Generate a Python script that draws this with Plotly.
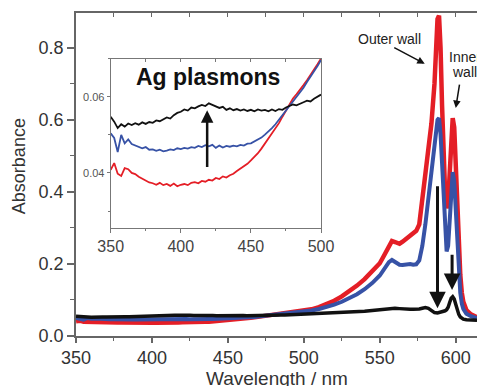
import plotly.graph_objects as go

# ---------------- data ----------------
wl_inset = [350 + 2.5 * i for i in range(61)]
wl_tail = [505, 510, 515, 520, 525, 530, 535, 540, 545, 550, 553, 556, 558, 560,
           563, 565, 568, 570, 572, 574, 576, 578, 580, 582, 584, 586, 588, 589,
           590, 591, 592, 593, 594, 595, 596, 597, 598, 599, 600, 601, 602, 603,
           604, 605, 607, 610, 614]

black_inset = [0.0548, 0.0535, 0.0518, 0.0528, 0.0522, 0.0530, 0.0526, 0.0531, 0.0527, 0.0533,
               0.0529, 0.0534, 0.0532, 0.0538, 0.0536, 0.0541, 0.0546, 0.0543, 0.0552, 0.0558,
               0.0561, 0.0567, 0.0564, 0.0572, 0.0570, 0.0575, 0.0579, 0.0576, 0.0583, 0.0579,
               0.0576, 0.0571, 0.0574, 0.0566, 0.0570, 0.0565, 0.0568, 0.0564, 0.0567, 0.0563,
               0.0566, 0.0562, 0.0567, 0.0564, 0.0566, 0.0562, 0.0567, 0.0563, 0.0568, 0.0566,
               0.0572, 0.0575, 0.0580, 0.0578, 0.0583, 0.0586, 0.0590, 0.0588, 0.0595, 0.0601,
               0.0606]
blue_inset = [0.0504, 0.0492, 0.0455, 0.0500, 0.0478, 0.0488, 0.0476, 0.0472, 0.0468, 0.0465,
              0.0468, 0.0461, 0.0462, 0.0458, 0.0461, 0.0457, 0.0459, 0.0462, 0.0460, 0.0465,
              0.0463, 0.0466, 0.0464, 0.0468, 0.0466, 0.0471, 0.0468, 0.0473, 0.0470, 0.0474,
              0.0466, 0.0472, 0.0467, 0.0471, 0.0469, 0.0472, 0.0470, 0.0474, 0.0472, 0.0477,
              0.0478, 0.0483, 0.0487, 0.0493, 0.0501, 0.0509, 0.0518, 0.0528, 0.0540, 0.0551,
              0.0565, 0.0576, 0.0587, 0.0598, 0.0610, 0.0624, 0.0639, 0.0652, 0.0666, 0.0681,
              0.0697]
red_inset = [0.0408, 0.0426, 0.0398, 0.0392, 0.0413, 0.0410, 0.0400, 0.0397, 0.0390, 0.0385,
             0.0381, 0.0375, 0.0373, 0.0369, 0.0374, 0.0368, 0.0371, 0.0366, 0.0372, 0.0365,
             0.0369, 0.0371, 0.0368, 0.0374, 0.0376, 0.0373, 0.0379, 0.0377, 0.0382, 0.0380,
             0.0387, 0.0384, 0.0391, 0.0388, 0.0394, 0.0398, 0.0405, 0.0411, 0.0418, 0.0424,
             0.0433, 0.0442, 0.0452, 0.0464, 0.0477, 0.0490, 0.0504, 0.0517, 0.0531, 0.0548,
             0.0565, 0.0580, 0.0596, 0.0607, 0.0618, 0.0631, 0.0644, 0.0657, 0.0671, 0.0686,
             0.0701]

red_tail = [0.074, 0.080, 0.088, 0.098, 0.110, 0.124, 0.140, 0.158, 0.178, 0.202,
            0.225, 0.252, 0.264, 0.261, 0.256, 0.262, 0.272, 0.280, 0.287, 0.292,
            0.310, 0.370, 0.450, 0.520, 0.590, 0.700, 0.880, 0.890, 0.800, 0.640,
            0.500, 0.400, 0.355, 0.370, 0.450, 0.560, 0.605, 0.580, 0.470, 0.360,
            0.250, 0.170, 0.120, 0.095, 0.072, 0.060, 0.052]
blue_tail = [0.071, 0.075, 0.080, 0.087, 0.095, 0.105, 0.116, 0.130, 0.147, 0.168,
             0.188, 0.205, 0.211, 0.206, 0.198, 0.197, 0.199, 0.200, 0.198, 0.199,
             0.210, 0.250, 0.310, 0.380, 0.450, 0.530, 0.600, 0.605, 0.560, 0.480,
             0.380, 0.290, 0.235, 0.250, 0.330, 0.420, 0.455, 0.430, 0.340, 0.250,
             0.170, 0.120, 0.090, 0.075, 0.062, 0.055, 0.050]
black_tail = [0.061, 0.062, 0.063, 0.064, 0.065, 0.066, 0.067, 0.069, 0.071, 0.073,
              0.075, 0.077, 0.078, 0.077, 0.076, 0.075, 0.074, 0.074, 0.074, 0.074,
              0.075, 0.077, 0.079, 0.077, 0.070, 0.065, 0.064, 0.065, 0.066, 0.067,
              0.068, 0.070, 0.073, 0.080, 0.093, 0.105, 0.109, 0.103, 0.088, 0.072,
              0.060, 0.053, 0.049, 0.047, 0.045, 0.044, 0.044]

wavelength = wl_inset + wl_tail
red = red_inset + red_tail
blue = blue_inset + blue_tail
black = black_inset + black_tail

RED = "#e41e26"
BLUE = "#3752a6"
BLACK = "#111111"
FONT = "Liberation Sans, Arial, sans-serif"

fig = go.Figure()
# main traces
fig.add_trace(go.Scatter(x=wavelength, y=red, mode="lines", line=dict(color=RED, width=4.5), xaxis="x", yaxis="y"))
fig.add_trace(go.Scatter(x=wavelength, y=blue, mode="lines", line=dict(color=BLUE, width=4), xaxis="x", yaxis="y"))
fig.add_trace(go.Scatter(x=wavelength, y=black, mode="lines", line=dict(color=BLACK, width=3.5), xaxis="x", yaxis="y"))
# inset traces
fig.add_trace(go.Scatter(x=wl_inset, y=red_inset, mode="lines", line=dict(color=RED, width=1.8), xaxis="x2", yaxis="y2"))
fig.add_trace(go.Scatter(x=wl_inset, y=blue_inset, mode="lines", line=dict(color=BLUE, width=1.8), xaxis="x2", yaxis="y2"))
fig.add_trace(go.Scatter(x=wl_inset, y=black_inset, mode="lines", line=dict(color=BLACK, width=1.8), xaxis="x2", yaxis="y2"))
# empty traces to activate top tick axes
fig.add_trace(go.Scatter(x=[], y=[], xaxis="x3", yaxis="y", hoverinfo="skip"))
fig.add_trace(go.Scatter(x=[], y=[], xaxis="x4", yaxis="y2", hoverinfo="skip"))

axcol = "#666666"
fig.update_layout(
    width=477, height=386,
    margin=dict(l=76, r=0, t=13, b=50, autoexpand=False),
    paper_bgcolor="white", plot_bgcolor="white",
    showlegend=False,
    font=dict(family=FONT, color="#333333"),
    xaxis=dict(domain=[0, 1], anchor="y", range=[350, 614], showgrid=False, zeroline=False,
               automargin=False,
               showline=True, linecolor=axcol, linewidth=1.5, mirror=True,
               ticks="outside", ticklen=5, tickwidth=1.5, tickcolor=axcol,
               tick0=350, dtick=50, tickfont=dict(size=18, color="#333333"),
               minor=dict(dtick=25, ticks="outside", ticklen=3, tickwidth=1.2, tickcolor=axcol)),
    yaxis=dict(domain=[0, 1], anchor="x", range=[0, 0.897], showgrid=False, zeroline=False,
               automargin=False,
               showline=True, linecolor=axcol, linewidth=1.5,
               ticks="outside", ticklen=7, tickwidth=1.5, tickcolor=axcol,
               tick0=0, dtick=0.2, tickformat=".1f", tickfont=dict(size=18, color="#333333"),
               minor=dict(dtick=0.1, ticks="outside", ticklen=4, tickwidth=1.2, tickcolor=axcol)),
    xaxis3=dict(overlaying="x", anchor="y", side="top", range=[350, 614], showgrid=False,
                automargin=False,
                zeroline=False, showline=False, showticklabels=False,
                ticks="inside", ticklen=4, tickwidth=1.2, tickcolor=axcol, tick0=350, dtick=25),
    xaxis2=dict(domain=[0.0865, 0.611], anchor="y2", range=[350, 500], showgrid=False, zeroline=False,
                automargin=False,
                showline=True, linecolor="#777777", linewidth=1, mirror=True,
                ticks="outside", ticklen=4, tickwidth=1, tickcolor="#777777",
                tick0=350, dtick=50, tickfont=dict(size=16, color="#444444"),
                minor=dict(dtick=25, ticks="outside", ticklen=2, tickwidth=1, tickcolor="#777777")),
    yaxis2=dict(domain=[0.334, 0.858], anchor="x2", range=[0.0255, 0.07], showgrid=False, zeroline=False,
                automargin=False,
                showline=True, linecolor="#777777", linewidth=1, mirror=True,
                ticks="outside", ticklen=3, tickwidth=1, tickcolor="#777777",
                tick0=0.04, dtick=0.02, tickformat=".2f", tickfont=dict(size=11, color="#555555"),
                minor=dict(dtick=0.01, ticks="outside", ticklen=2, tickwidth=1, tickcolor="#777777")),
    xaxis4=dict(overlaying="x2", anchor="y2", side="top", range=[350, 500], showgrid=False,
                automargin=False,
                zeroline=False, showline=False, showticklabels=False,
                ticks="inside", ticklen=3, tickwidth=1, tickcolor="#777777", tick0=350, dtick=25),
)

ann = []
# axis titles
ann.append(dict(text="Wavelength / nm", xref="paper", yref="paper", x=0.5, y=-0.131,
                xanchor="center", yanchor="middle", showarrow=False,
                font=dict(size=19, color="#333333", family=FONT)))
ann.append(dict(text="Absorbance", xref="paper", yref="paper", x=-0.142, y=0.526, textangle=-90,
                xanchor="center", yanchor="middle", showarrow=False,
                font=dict(size=18, color="#333333", family=FONT)))
# inset label
ann.append(dict(text="<b>Ag plasmons</b>", xref="paper", yref="paper", x=0.328, y=0.802,
                xanchor="center", yanchor="middle", showarrow=False,
                font=dict(size=23, color="#111111", family=FONT)))
# peak labels
ann.append(dict(text="Outer wall", xref="paper", yref="paper", x=0.783, y=0.918,
                xanchor="center", yanchor="middle", showarrow=False,
                font=dict(size=14, color="#222222", family=FONT)))
ann.append(dict(text="Inner", xref="paper", yref="paper", x=0.970, y=0.864,
                xanchor="center", yanchor="middle", showarrow=False,
                font=dict(size=14, color="#222222", family=FONT)))
ann.append(dict(text="wall", xref="paper", yref="paper", x=0.970, y=0.818,
                xanchor="center", yanchor="middle", showarrow=False,
                font=dict(size=14, color="#222222", family=FONT)))
# thin label arrows
ann.append(dict(text="", x=579.6, y=0.756, xref="x", yref="y", ax=-32, ay=-17,
                showarrow=True, arrowhead=2, arrowsize=1, arrowwidth=1.5, arrowcolor="#111111"))
ann.append(dict(text="", x=600, y=0.633, xref="x", yref="y", ax=4, ay=-25,
                showarrow=True, arrowhead=2, arrowsize=1, arrowwidth=1.5, arrowcolor="#111111"))
# thick arrows
ann.append(dict(text="", x=588, y=0.077, xref="x", yref="y", ax=588, ay=0.42, axref="x", ayref="y",
                showarrow=True, arrowhead=2, arrowsize=1.1, arrowwidth=3, arrowcolor="#111111"))
ann.append(dict(text="", x=597.6, y=0.128, xref="x", yref="y", ax=597.6, ay=0.23, axref="x", ayref="y",
                showarrow=True, arrowhead=2, arrowsize=1.1, arrowwidth=3, arrowcolor="#111111"))
ann.append(dict(text="", x=418.8, y=0.0565, xref="x2", yref="y2", ax=418.8, ay=0.0412,
                axref="x2", ayref="y2",
                showarrow=True, arrowhead=2, arrowsize=1, arrowwidth=2.5, arrowcolor="#111111"))
fig.update_layout(annotations=ann)

fig.write_html("out.html", config={"displayModeBar": False},
               post_script="document.body.style.margin='0';document.body.style.padding='0';")
